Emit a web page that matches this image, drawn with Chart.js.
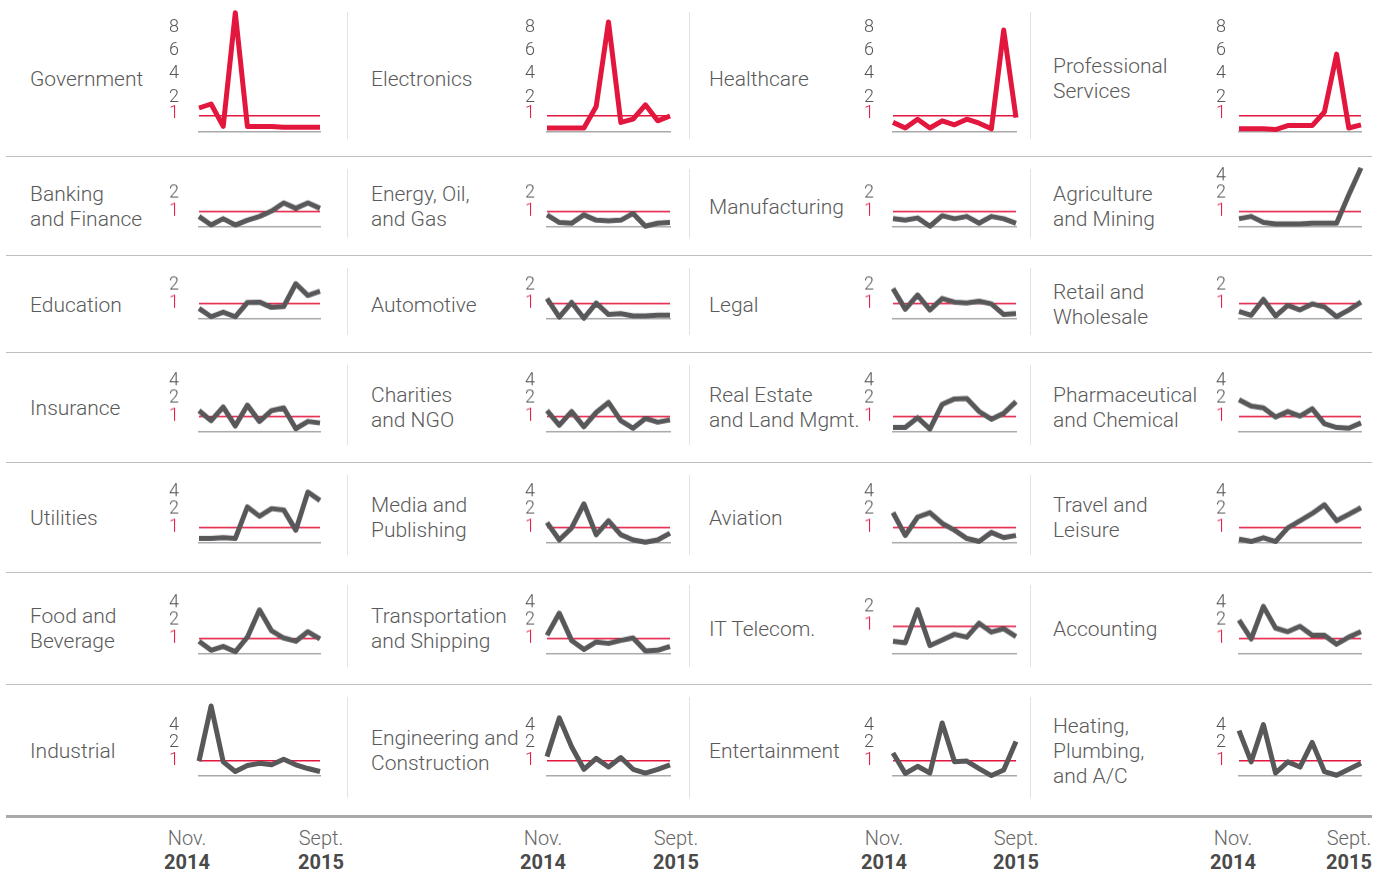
<!DOCTYPE html>
<html>
<head>
<meta charset="utf-8">
<script src="https://cdn.jsdelivr.net/npm/chart.js@4.4.1/dist/chart.umd.min.js"></script>
<style>
  body { margin: 0; background: #fff; width: 1390px; height: 886px; position: relative; overflow: hidden;
         font-family: Roboto, "Open Sans", sans-serif; font-weight: 300; color: #5a5a5a; }
  .name { position: absolute; font-size: 21px; line-height: 25px; white-space: pre; transform: translateY(-50%); }
  .hsep { position: absolute; left: 6px; width: 1366px; border-top: 1.5px solid #bdbdbd; }
  .hsep.last { border-top: 3px solid #a9a9a9; }
  .vsep { position: absolute; width: 0; border-left: 1px solid #e3e3e3; }
  .when { position: absolute; font-size: 20px; line-height: 24px; text-align: center; transform: translateX(-50%); color: #666; }
  .when b { display: block; font-weight: 700; color: #4a4a4a; }
  canvas { position: absolute; }
</style>
</head>
<body>
<script>
// months along every sparkline (Nov. 2014 .. Sept. 2015)
const months = ['Nov. 2014', 'Dec.', 'Jan. 2015', 'Feb.', 'Mar.', 'Apr.', 'May', 'Jun.', 'Jul.', 'Aug.', 'Sept. 2015'];

const industries = [
  'Government', 'Electronics', 'Healthcare', 'Professional\nServices',
  'Banking\nand Finance', 'Energy, Oil,\nand Gas', 'Manufacturing', 'Agriculture\nand Mining',
  'Education', 'Automotive', 'Legal', 'Retail and\nWholesale',
  'Insurance', 'Charities\nand NGO', 'Real Estate\nand Land Mgmt.', 'Pharmaceutical\nand Chemical',
  'Utilities', 'Media and\nPublishing', 'Aviation', 'Travel and\nLeisure',
  'Food and\nBeverage', 'Transportation\nand Shipping', 'IT Telecom.', 'Accounting',
  'Industrial', 'Engineering and\nConstruction', 'Entertainment', 'Heating,\nPlumbing,\nand A/C'
];

// series values, one per industry
const government    = [1.5, 1.75, 0.35, 9.5, 0.35, 0.35, 0.35, 0.3, 0.3, 0.3, 0.3];
const electronics   = [0.25, 0.25, 0.25, 0.25, 1.6, 8.7, 0.6, 0.8, 1.7, 0.7, 1.0];
const healthcare    = [0.6, 0.25, 0.8, 0.25, 0.7, 0.45, 0.8, 0.55, 0.2, 8.0, 0.9];
const professional  = [0.2, 0.2, 0.2, 0.15, 0.4, 0.4, 0.4, 1.25, 5.9, 0.25, 0.45];
const banking       = [0.7, 0.13, 0.55, 0.13, 0.45, 0.7, 1.05, 1.5, 1.2, 1.5, 1.2];
const energy        = [0.8, 0.3, 0.25, 0.8, 0.45, 0.4, 0.45, 0.9, 0.05, 0.25, 0.3];
const manufacturing = [0.55, 0.45, 0.6, 0.05, 0.75, 0.55, 0.7, 0.25, 0.7, 0.55, 0.25];
const agriculture   = [0.55, 0.7, 0.3, 0.2, 0.2, 0.2, 0.25, 0.25, 0.25, 1.95, 5.05];
const education     = [0.7, 0.15, 0.45, 0.15, 1.08, 1.1, 0.77, 0.83, 2.25, 1.47, 1.7];
const automotive    = [1.3, 0.12, 1.08, 0.05, 1.05, 0.3, 0.35, 0.2, 0.2, 0.25, 0.25];
const legal         = [1.85, 0.65, 1.5, 0.6, 1.3, 1.1, 1.05, 1.15, 1.0, 0.3, 0.35];
const retail        = [0.5, 0.25, 1.25, 0.2, 0.9, 0.6, 1.0, 0.8, 0.15, 0.6, 1.1];
const insurance     = [1.35, 0.75, 1.55, 0.4, 1.65, 0.7, 1.35, 1.5, 0.22, 0.7, 0.6];
const charities     = [1.35, 0.45, 1.3, 0.35, 1.25, 1.8, 0.75, 0.25, 0.9, 0.65, 0.8];
const realEstate    = [0.3, 0.3, 0.95, 0.2, 1.7, 2.0, 2.05, 1.3, 0.85, 1.2, 1.85];
const pharma        = [1.95, 1.6, 1.5, 1.0, 1.3, 1.05, 1.45, 0.55, 0.3, 0.25, 0.6];
const utilities     = [0.3, 0.3, 0.35, 0.3, 2.35, 1.65, 2.15, 2.0, 0.85, 4.1, 3.1];
const media         = [1.3, 0.2, 1.0, 2.7, 0.55, 1.4, 0.55, 0.2, 0.05, 0.2, 0.65];
const aviation      = [1.85, 0.5, 1.6, 1.85, 1.25, 0.85, 0.3, 0.1, 0.7, 0.35, 0.5];
const travel        = [0.25, 0.1, 0.35, 0.1, 1.0, 1.4, 1.8, 2.6, 1.4, 1.75, 2.25];
const food          = [0.85, 0.25, 0.5, 0.15, 1.1, 3.3, 1.45, 1.05, 0.85, 1.4, 1.0];
const transport     = [1.2, 2.9, 0.9, 0.3, 0.8, 0.7, 0.9, 1.05, 0.2, 0.25, 0.5];
const itTelecom     = [0.45, 0.4, 1.9, 0.3, 0.5, 0.7, 0.6, 1.15, 0.78, 0.9, 0.62];
const accounting    = [2.1, 1.0, 3.7, 1.6, 1.4, 1.7, 1.2, 1.2, 0.65, 1.1, 1.4];
const industrial    = [1.0, 6.4, 0.95, 0.3, 0.7, 0.85, 0.75, 1.1, 0.75, 0.5, 0.3];
const engineering   = [1.25, 5.0, 1.8, 0.45, 1.15, 0.6, 1.2, 0.45, 0.2, 0.45, 0.75];
const entertainment = [1.45, 0.17, 0.65, 0.2, 4.4, 0.95, 1.0, 0.5, 0.03, 0.4, 2.2];
const heating       = [3.5, 0.95, 4.2, 0.2, 0.95, 0.6, 2.1, 0.3, 0.05, 0.45, 0.85];

// y tick labels
const ticksTop = [1, 2, 4, 6, 8];
const ticksMid = [1, 2, 4];
const ticksLow = [1, 2];

const series = [
  government, electronics, healthcare, professional,
  banking, energy, manufacturing, agriculture,
  education, automotive, legal, retail,
  insurance, charities, realEstate, pharma,
  utilities, media, aviation, travel,
  food, transport, itTelecom, accounting,
  industrial, engineering, entertainment, heating
];
const panelTicks = [
  ticksTop, ticksTop, ticksTop, ticksTop,
  ticksLow, ticksLow, ticksLow, ticksMid,
  ticksLow, ticksLow, ticksLow, ticksLow,
  ticksMid, ticksMid, ticksMid, ticksMid,
  ticksMid, ticksMid, ticksMid, ticksMid,
  ticksMid, ticksMid, ticksLow, ticksMid,
  ticksMid, ticksMid, ticksMid, ticksMid
];

// ---- layout / style ----
const RED = '#e3173e';
const LINE_GRAY = '#58585a';
const rowTop    = [0, 157, 256, 353, 463, 573, 685];
const rowBottom = [157, 256, 353, 463, 573, 685, 816];
const rowBase   = [132, 227, 319, 432, 543, 654, 776];
const rowMax    = [10, 5.5, 5.5, 5.5, 5.5, 5.5, 7];
const plotX     = [[199, 320], [547, 670], [893, 1016], [1239, 1361]];
const tickGap   = [20, 12, 19, 13];
const nameX     = [30, 371, 709, 1053];
const colSepX   = [347, 689, 1030];
const whenX     = [[187, 321], [543, 676], [884, 1016], [1233, 1349]];

// the axis is stretched between the printed tick labels (pixels above baseline)
const scaleTop = { knots: [[0, 0], [1, 16], [2, 32], [4, 56], [6, 79], [8, 102]], slope: 11.5, shift: -3 };
const scaleStd = { knots: [[0, 0], [1, 15], [2, 33], [4, 50]], slope: 8.5, shift: -1 };
const scaleIT  = { knots: [[0, 0], [1, 28], [2, 46]], slope: 9, shift: -1 };

function knotPx(knots, slope, v) {
  for (let i = 1; i < knots.length; i++) {
    if (v <= knots[i][0]) {
      const [v0, p0] = knots[i - 1], [v1, p1] = knots[i];
      return p0 + (v - v0) * (p1 - p0) / (v1 - v0);
    }
  }
  const [vn, pn] = knots[knots.length - 1];
  return pn + (v - vn) * slope;
}
function knotVal(knots, slope, px) {
  for (let i = 1; i < knots.length; i++) {
    if (px <= knots[i][1]) {
      const [v0, p0] = knots[i - 1], [v1, p1] = knots[i];
      return v0 + (px - p0) * (v1 - v0) / (p1 - p0);
    }
  }
  const [vn, pn] = knots[knots.length - 1];
  return vn + (px - pn) / slope;
}

// piecewise linear value axis
class KnotScale extends Chart.LinearScale {
  buildTicks() {
    this.start = this.min;
    this.end = this.max;
    return this.options.tickValues.map(v => ({ value: v }));
  }
  getPixelForValue(value) {
    if (value === null || value === undefined) return NaN;
    const o = this.options;
    const t = knotPx(o.knots, o.slope, value) / knotPx(o.knots, o.slope, this.max);
    return this.getPixelForDecimal(t);
  }
  getValueForPixel(pixel) {
    const o = this.options;
    const px = this.getDecimalForPixel(pixel) * knotPx(o.knots, o.slope, this.max);
    return knotVal(o.knots, o.slope, px);
  }
}
KnotScale.id = 'knot';
KnotScale.defaults = {};
Chart.register(KnotScale);

Chart.defaults.font.family = 'Roboto';

function add(tag, cls, css, html) {
  const el = document.createElement(tag);
  if (cls) el.className = cls;
  Object.assign(el.style, css);
  if (html !== undefined) el.innerHTML = html;
  document.body.appendChild(el);
  return el;
}

// separators
rowBottom.forEach((y, r) => {
  add('div', 'hsep' + (r === rowBottom.length - 1 ? ' last' : ''), { top: (y - 1) + 'px' });
  colSepX.forEach(x => add('div', 'vsep', { left: x + 'px', top: (rowTop[r] + 12) + 'px', height: (y - rowTop[r] - 30) + 'px' }));
});

// bottom month labels
whenX.forEach(([a, b]) => {
  add('div', 'when', { left: a + 'px', top: '826px' }, 'Nov.<b>2014</b>');
  add('div', 'when', { left: b + 'px', top: '826px' }, 'Sept.<b>2015</b>');
});

industries.forEach((name, i) => {
  const r = Math.floor(i / 4), c = i % 4;
  const sc = r === 0 ? scaleTop : (name === 'IT Telecom.' ? scaleIT : scaleStd);
  const ref = r === 0 ? scaleTop : scaleStd;
  const H = knotPx(ref.knots, ref.slope, rowMax[r]);
  const yMax = knotVal(sc.knots, sc.slope, H);

  add('div', 'name', { left: nameX[c] + 'px', top: ((rowTop[r] + rowBottom[r]) / 2) + 'px' }).textContent = name;

  const pad = 6, axisW = 40;
  const w = axisW + (plotX[c][1] - plotX[c][0]) + pad;
  const h = H + pad * 2;
  const cv = add('canvas', '', {
    left: (plotX[c][0] - axisW) + 'px', top: (rowBase[r] - H - pad) + 'px',
    width: w + 'px', height: h + 'px'
  });
  cv.width = w; cv.height = h;

  new Chart(cv.getContext('2d'), {
    type: 'line',
    data: {
      labels: months,
      datasets: [{
        data: series[i],
        borderColor: r === 0 ? RED : LINE_GRAY,
        borderWidth: 5,
        borderJoinStyle: 'round',
        pointRadius: 0,
        tension: 0,
        clip: false
      }]
    },
    options: {
      responsive: false,
      animation: false,
      events: [],
      layout: { autoPadding: false, padding: { top: pad, bottom: pad, left: 0, right: pad } },
      plugins: { legend: { display: false }, tooltip: { enabled: false } },
      scales: {
        x: {
          offset: false,
          ticks: { display: false },
          grid: { display: false, drawTicks: false },
          border: { display: true, color: '#a9a9a9', width: 1.5 },
          afterFit: s => { s.height = 0; s.paddingLeft = s.paddingRight = 0; }
        },
        y: {
          type: 'knot',
          position: 'left',
          min: 0,
          max: yMax,
          knots: sc.knots,
          slope: sc.slope,
          tickValues: panelTicks[i],
          border: { display: false },
          grid: {
            drawTicks: false,
            lineWidth: 1.5,
            color: ctx => (ctx.tick && ctx.tick.value === 1 ? RED : 'rgba(0,0,0,0)')
          },
          ticks: {
            autoSkip: false,
            padding: tickGap[c],
            labelOffset: sc.shift,
            color: ctx => (ctx.tick && ctx.tick.value === 1 ? RED : '#555'),
            font: { family: 'Roboto', weight: 300, size: 18 },
            callback: v => String(v)
          },
          afterFit: s => { s.width = axisW; s.paddingTop = s.paddingBottom = 0; }
        }
      }
    }
  });
});
</script>
</body>
</html>
